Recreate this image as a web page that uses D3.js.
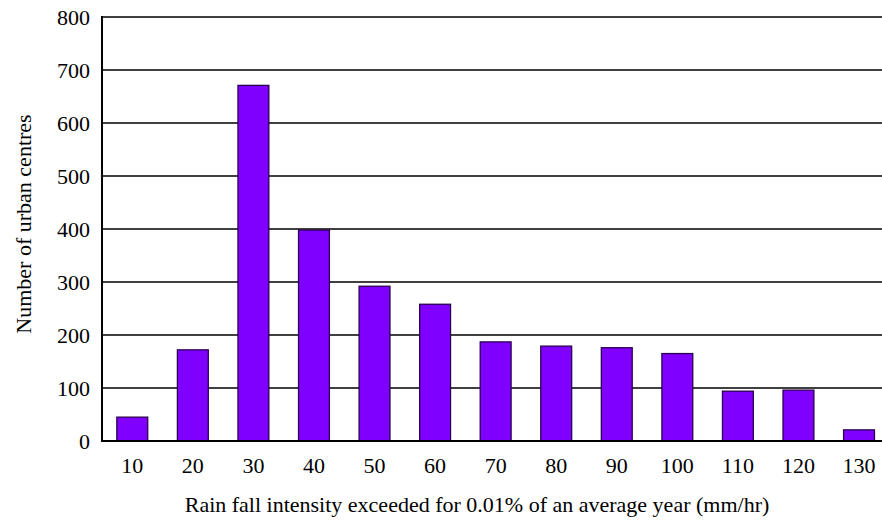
<!DOCTYPE html>
<html><head><meta charset="utf-8">
<script src="https://cdn.jsdelivr.net/npm/d3@7"></script>
<style>body{margin:0;background:#fff}svg{display:block}</style>
</head><body>
<script>
const categories = ["10","20","30","40","50","60","70","80","90","100","110","120","130"];
const values = [45, 172, 671, 398, 292, 258, 187, 179, 176, 165, 94, 96, 21];
const yTicks = [0,100,200,300,400,500,600,700,800];

const W = 882, H = 521;
const mLeft = 102, mTop = 17, mBottom = 441, mRight = 889.3;
const svg = d3.select("body").append("svg").attr("width", W).attr("height", H);
const font = "Liberation Serif, Times New Roman, serif";

const x = d3.scaleBand().domain(categories).range([mLeft, mRight]).paddingInner(0.49).paddingOuter(0.245);
const y = d3.scaleLinear().domain([0, 800]).range([mBottom, mTop]);

// gridlines
svg.append("g").selectAll("line").data(yTicks.filter(d => d > 0)).join("line")
  .attr("x1", mLeft).attr("x2", W).attr("y1", d => y(d)).attr("y2", d => y(d))
  .attr("stroke", "#000").attr("stroke-width", 1.6);

// bars
svg.append("g").selectAll("rect").data(values).join("rect")
  .attr("x", (d, i) => x(categories[i]))
  .attr("width", x.bandwidth())
  .attr("y", d => y(d))
  .attr("height", d => y(0) - y(d))
  .attr("fill", "#8000ff").attr("stroke", "#2a0050").attr("stroke-width", 1.3);

// axes lines
svg.append("line").attr("x1", mLeft).attr("x2", W).attr("y1", mBottom).attr("y2", mBottom)
  .attr("stroke", "#000").attr("stroke-width", 2);
svg.append("line").attr("x1", mLeft).attr("x2", mLeft).attr("y1", mTop - 1).attr("y2", mBottom + 1)
  .attr("stroke", "#000").attr("stroke-width", 2);

// y axis labels
const yAxis = d3.axisLeft(y).tickValues(yTicks).tickSize(0).tickPadding(12);
const gy = svg.append("g").attr("transform", `translate(${mLeft},0)`).call(yAxis);
gy.attr("font-family", null).attr("font-size", null);
gy.select(".domain").remove();
gy.selectAll("text").style("font-family", font).style("font-size", "22px").attr("fill", "#000");

// x axis labels
const xAxis = d3.axisBottom(x).tickSize(0).tickPadding(16);
const gx = svg.append("g").attr("transform", `translate(0,${mBottom})`).call(xAxis);
gx.attr("font-family", null).attr("font-size", null);
gx.select(".domain").remove();
gx.selectAll("text").style("font-family", font).style("font-size", "22px").attr("fill", "#000");

// titles
svg.append("text").attr("x", 477).attr("y", 512).attr("text-anchor", "middle")
  .style("font-family", font).style("font-size", "22px").text("Rain fall intensity exceeded for 0.01% of an average year (mm/hr)");
svg.append("text").attr("transform", "translate(31,224) rotate(-90)").attr("text-anchor", "middle")
  .style("font-family", font).style("font-size", "22px").text("Number of urban centres");
</script>
</body></html>
